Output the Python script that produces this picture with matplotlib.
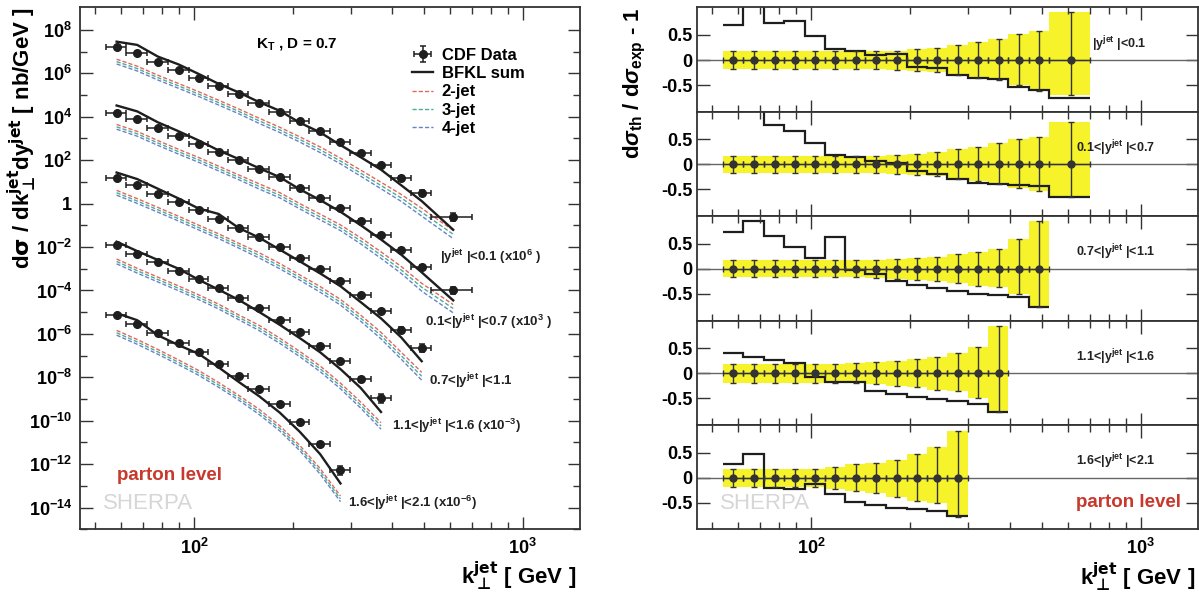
import numpy as np
import matplotlib.pyplot as plt
from matplotlib.ticker import FixedLocator, NullFormatter
from matplotlib.lines import Line2D

plt.rcParams['font.family'] = ['Liberation Sans', 'DejaVu Sans']
plt.rcParams['font.weight'] = 'bold'
plt.rcParams['mathtext.fontset'] = 'custom'
plt.rcParams['mathtext.rm'] = 'Liberation Sans:bold'
plt.rcParams['mathtext.it'] = 'Liberation Sans:bold:italic'
plt.rcParams['mathtext.bf'] = 'Liberation Sans:bold'

# kT jet bins (GeV)
bin_edges = [54, 62, 72, 83, 96, 110, 127, 146, 169, 195, 224, 259, 298, 344, 396, 457, 527, 700]

# CDF data as plotted (scale factors already applied), nb/GeV
data_y01 = [1.7e7, 8.5e6, 3.4e6, 1.45e6, 6.4e5, 2.7e5, 1.12e5, 4.3e4, 1.68e4, 6.2e3, 2.24e3, 7.1e2, 2.1e2, 58, 14.8, 3.2, 0.25]
data_y07 = [1.5e4, 7.7e3, 3.1e3, 1.29e3, 570, 238, 98, 40, 16, 5.2, 1.8, 0.6, 0.16, 0.037, 7.6e-3, 1.2e-3, 1.0e-4]
data_y11 = [15.5, 6.9, 2.9, 1.2, 0.49, 0.204, 0.078, 0.03, 0.01, 3.2e-3, 1.0e-3, 2.8e-4, 5.9e-5, 1.1e-5, 1.55e-6, 2.3e-7]
data_y16 = [1.25e-2, 4.9e-3, 2.0e-3, 8.3e-4, 3.4e-4, 1.32e-4, 4.5e-5, 1.6e-5, 4.5e-6, 1.2e-6, 2.9e-7, 5.4e-8, 8.5e-9, 1.1e-9]
data_y21 = [7.1e-6, 2.9e-6, 1.07e-6, 3.9e-7, 1.4e-7, 4.3e-8, 1.2e-8, 3.0e-9, 5.9e-10, 8.3e-11, 8.5e-12, 5.4e-13]

# dsigma_th / dsigma_exp - 1 (BFKL sum)
ratio_y01 = [0.69, 1.40, 0.73, 0.78, 0.47, 0.22, 0.18, 0.10, 0.12, -0.14, -0.15, -0.30, -0.35, -0.37, -0.53, -0.59, -0.75]
ratio_y07 = [1.20, 1.30, 0.78, 0.67, 0.43, 0.19, 0.15, 0.07, 0.03, -0.13, -0.19, -0.30, -0.37, -0.40, -0.42, -0.43, -0.65]
ratio_y11 = [0.74, 0.96, 0.66, 0.44, 0.22, 0.64, -0.03, -0.10, -0.24, -0.32, -0.39, -0.44, -0.51, -0.53, -0.56, -0.76]
ratio_y16 = [0.41, 0.33, 0.26, 0.21, -0.08, -0.17, -0.18, -0.36, -0.42, -0.47, -0.51, -0.56, -0.62, -0.77]
ratio_y21 = [0.27, 0.47, -0.20, -0.22, -0.13, -0.33, -0.49, -0.55, -0.60, -0.63, -0.66, -0.76]

# experimental uncertainty (relative, up / down)
unc_up_y01 = [0.17, 0.17, 0.17, 0.17, 0.17, 0.17, 0.17, 0.17, 0.18, 0.21, 0.24, 0.30, 0.36, 0.42, 0.52, 0.58, 0.95]
unc_dn_y01 = [0.18, 0.18, 0.18, 0.18, 0.18, 0.18, 0.18, 0.18, 0.19, 0.22, 0.24, 0.29, 0.35, 0.40, 0.50, 0.62, 0.70]
unc_up_y07 = [0.17, 0.17, 0.17, 0.17, 0.17, 0.17, 0.17, 0.17, 0.18, 0.21, 0.24, 0.30, 0.35, 0.42, 0.50, 0.55, 0.84]
unc_dn_y07 = [0.18, 0.18, 0.18, 0.18, 0.18, 0.18, 0.18, 0.18, 0.19, 0.22, 0.24, 0.29, 0.34, 0.40, 0.48, 0.52, 0.65]
unc_up_y11 = [0.17, 0.17, 0.17, 0.17, 0.17, 0.17, 0.17, 0.18, 0.20, 0.22, 0.24, 0.29, 0.34, 0.40, 0.60, 0.96]
unc_dn_y11 = [0.17, 0.17, 0.17, 0.17, 0.17, 0.17, 0.17, 0.18, 0.20, 0.22, 0.24, 0.29, 0.34, 0.37, 0.50, 0.76]
unc_up_y16 = [0.19, 0.19, 0.19, 0.19, 0.19, 0.19, 0.20, 0.22, 0.25, 0.28, 0.33, 0.40, 0.53, 0.95]
unc_dn_y16 = [0.19, 0.19, 0.19, 0.19, 0.19, 0.19, 0.20, 0.22, 0.25, 0.28, 0.33, 0.36, 0.50, 0.77]
unc_up_y21 = [0.18, 0.18, 0.18, 0.18, 0.18, 0.22, 0.27, 0.30, 0.36, 0.47, 0.60, 0.92]
unc_dn_y21 = [0.18, 0.18, 0.18, 0.18, 0.18, 0.22, 0.27, 0.30, 0.38, 0.47, 0.50, 0.78]

# n-jet contributions: log10(2-jet / data) per bin, and 3-/4-jet relative to 2-jet
jet2_y01 = [-0.58, -0.60, -0.62, -0.63, -0.65, -0.67, -0.69, -0.70, -0.71, -0.72, -0.74, -0.76, -0.78, -0.78, -0.75, -0.72, -0.63]
jet2_y07 = [-0.53, -0.56, -0.59, -0.61, -0.63, -0.65, -0.67, -0.69, -0.70, -0.72, -0.74, -0.76, -0.78, -0.79, -0.78, -0.75, -0.65]
jet2_y11 = [-0.58, -0.61, -0.64, -0.66, -0.68, -0.70, -0.72, -0.74, -0.76, -0.79, -0.82, -0.86, -0.91, -0.97, -1.04, -1.13]
jet2_y16 = [-0.65, -0.67, -0.69, -0.71, -0.73, -0.75, -0.78, -0.81, -0.85, -0.89, -0.94, -1.00, -1.07, -1.13]
jet2_y21 = [-0.69, -0.72, -0.75, -0.79, -0.83, -0.87, -0.91, -0.95, -1.00, -1.06, -1.13, -1.20]
jet3_rel = [-0.11, -0.11, -0.11, -0.11, -0.11, -0.11, -0.11, -0.12, -0.12, -0.12, -0.13, -0.13, -0.14, -0.15, -0.16, -0.18, -0.18]
jet4_rel = [-0.22, -0.22, -0.22, -0.22, -0.22, -0.22, -0.22, -0.24, -0.24, -0.24, -0.26, -0.26, -0.28, -0.30, -0.32, -0.36, -0.38]

left_labels = [r'|y$^{\mathrm{jet}}$ |<0.1 (x10$^{6}$ )',
               r'0.1<|y$^{\mathrm{jet}}$ |<0.7 (x10$^{3}$ )',
               r'0.7<|y$^{\mathrm{jet}}$ |<1.1',
               r'1.1<|y$^{\mathrm{jet}}$ |<1.6 (x10$^{-3}$)',
               r'1.6<|y$^{\mathrm{jet}}$ |<2.1 (x10$^{-6}$)']
right_labels = [r'|y$^{\mathrm{jet}}$ |<0.1',
                r'0.1<|y$^{\mathrm{jet}}$ |<0.7',
                r'0.7<|y$^{\mathrm{jet}}$ |<1.1',
                r'1.1<|y$^{\mathrm{jet}}$ |<1.6',
                r'1.6<|y$^{\mathrm{jet}}$ |<2.1']

datas = [data_y01, data_y07, data_y11, data_y16, data_y21]
ratios = [ratio_y01, ratio_y07, ratio_y11, ratio_y16, ratio_y21]
uncs_up = [unc_up_y01, unc_up_y07, unc_up_y11, unc_up_y16, unc_up_y21]
uncs_dn = [unc_dn_y01, unc_dn_y07, unc_dn_y11, unc_dn_y16, unc_dn_y21]
jet2s = [jet2_y01, jet2_y07, jet2_y11, jet2_y16, jet2_y21]

edges = np.array(bin_edges, dtype=float)
centers = 0.5 * (edges[:-1] + edges[1:])

dark = '#1e1e1e'
red = '#e2675c'
green = '#4aae98'
blue = '#6683cc'
yellow = '#f6f32a'
xlim = (45, 1490)
xminor = [50, 60, 70, 80, 90, 200, 300, 400, 500, 600, 700, 800, 900]
# \bot is U+22A5 (\perp maps to U+27C2, which the fonts lack); math parts use DejaVu
klabel = r'k$_{\bot}^{\mathbf{jet}}$ [ GeV ]'
ylabel_left = r'd$\mathbf{\sigma}$ / dk$_{\bot}^{\mathbf{jet}}$dy$^{\mathbf{jet}}$ [ nb/GeV ]'


def style_axes(ax):
    ax.tick_params(which='both', direction='in', top=True, right=True, labelsize=13, width=1.0, color='#333')
    ax.tick_params(which='major', length=9)
    ax.tick_params(which='minor', length=5)
    for s in ax.spines.values():
        s.set_linewidth(1.3)
        s.set_color('#333')


fig = plt.figure(figsize=(11.99, 5.99), dpi=100)
W, H = 1199.0, 599.0

# ---------------- left panel ----------------
axL = fig.add_axes([80.4 / W, 69.7 / H, 499.4 / W, 522 / H])
axL.set_xscale('log')
axL.set_yscale('log')
axL.set_xlim(*xlim)
axL.set_ylim(1e-15, 1.1e9)

cdf_handle = None
for g in range(5):
    n = len(datas[g])
    d = np.array(datas[g])
    c = centers[:n]
    lo = edges[:n]
    hi = edges[1:n + 1]
    th = d * (1 + np.array(ratios[g]))
    two = d * 10 ** np.array(jet2s[g])
    three = two * 10 ** np.array(jet3_rel[:n])
    four = two * 10 ** np.array(jet4_rel[:n])
    axL.plot(c, four, color=blue, lw=1.0, ls=(0, (3, 1.5)))
    axL.plot(c, three, color=green, lw=1.0, ls=(0, (3, 1.5)))
    axL.plot(c, two, color=red, lw=1.0, ls=(0, (3, 1.5)))
    axL.plot(c, th, color=dark, lw=1.7)
    yerr = [d * np.array(uncs_dn[g]) * 0.5, d * np.array(uncs_up[g]) * 0.5]
    h = axL.errorbar(c, d, xerr=[c - lo, hi - c], yerr=yerr, fmt='o', color=dark,
                     ms=5.5, elinewidth=1.1, capsize=2.2, capthick=1.1)
    if cdf_handle is None:
        cdf_handle = h

yt = np.arange(-14, 9, 2)
axL.set_yticks(10.0 ** yt, labels=['1' if k == 0 else r'$10^{%d}$' % k for k in yt])
axL.yaxis.set_minor_locator(FixedLocator(10.0 ** np.arange(-15, 9, 2)))
axL.yaxis.set_minor_formatter(NullFormatter())
axL.set_xticks([100, 1000], labels=[r'$10^{2}$', r'$10^{3}$'])
axL.xaxis.set_minor_locator(FixedLocator(xminor))
axL.xaxis.set_minor_formatter(NullFormatter())
style_axes(axL)
axL.tick_params(axis='x', pad=6)
axL.tick_params(axis='y', pad=6)

handles = [cdf_handle,
           Line2D([], [], color=dark, lw=1.7),
           Line2D([], [], color=red, lw=1.0, ls=(0, (3, 1.5))),
           Line2D([], [], color=green, lw=1.0, ls=(0, (3, 1.5))),
           Line2D([], [], color=blue, lw=1.0, ls=(0, (3, 1.5)))]
axL.legend(handles, ['CDF Data', 'BFKL sum', '2-jet', '3-jet', '4-jet'], loc='upper left',
           bbox_to_anchor=(0.64, 0.945), frameon=False, fontsize=12, handlelength=1.3,
           handletextpad=0.5, labelspacing=0.2, borderpad=0.2)

axL.text(0.352, 0.93, r'K$_{\mathrm{T}}$ , D = 0.7', transform=axL.transAxes, fontsize=11, va='center')
label_pos = [(0.72, 0.522), (0.69, 0.397), (0.698, 0.284), (0.624, 0.198), (0.536, 0.05)]
for (x, y), lab in zip(label_pos, left_labels):
    axL.text(x, y, lab, transform=axL.transAxes, fontsize=9.5, va='center', color='#222')
axL.text(0.073, 0.104, 'parton level', transform=axL.transAxes, fontsize=13.5, color='#c8382c', va='center')
axL.text(0.045, 0.05, 'SHERPA', transform=axL.transAxes, fontsize=16, color='#d6d6d6',
         fontweight='normal', va='center')

fig.text(22 / W, 1 - 7 / H, ylabel_left, rotation=90, ha='center', va='top', fontsize=16,
         math_fontfamily='dejavusans')
fig.text(576 / W, 1 - 576 / H, klabel, ha='right', va='center', fontsize=16, math_fontfamily='dejavusans')

# ---------------- right panels ----------------
x0 = 696.8 / W
wR = 501.2 / W
hP = 104.4 / H
for i in range(5):
    ax = fig.add_axes([x0, (69.7 + (4 - i) * 104.4) / H, wR, hP])
    n = len(ratios[i])
    e = edges[:n + 1]
    c = centers[:n]
    up = np.array(uncs_up[i])
    dn = np.array(uncs_dn[i])
    ax.stairs(up, e, baseline=-dn, fill=True, color=yellow, lw=0)
    ax.axhline(0, color='#666', lw=1.0)
    ax.stairs(ratios[i], e, baseline=None, color=dark, lw=1.6)
    ax.errorbar(c, np.zeros(n), xerr=[c - e[:-1], e[1:] - c], yerr=[dn, up], fmt='o',
                color='#333', ms=5, elinewidth=1.0, capsize=2.2, capthick=1.0)
    ax.set_xscale('log')
    ax.set_xlim(*xlim)
    ax.set_ylim(-1.03, 1.05)
    ax.set_yticks([-0.5, 0, 0.5], labels=['-0.5', '0', '0.5'])
    ax.set_xticks([100, 1000], labels=[r'$10^{2}$', r'$10^{3}$'])
    ax.xaxis.set_minor_locator(FixedLocator(xminor))
    ax.xaxis.set_minor_formatter(NullFormatter())
    style_axes(ax)
    ax.tick_params(axis='y', pad=3)
    ax.tick_params(axis='x', pad=6)
    if i < 4:
        ax.tick_params(axis='x', labelbottom=False)
    lx = 0.789 if i == 0 else 0.757
    ax.text(lx, 0.65, right_labels[i], transform=ax.transAxes, fontsize=9, va='center', color='#222')
    if i == 4:
        ax.text(0.757, 0.26, 'parton level', transform=ax.transAxes, fontsize=13.5,
                color='#c8382c', va='center')
        ax.text(0.046, 0.25, 'SHERPA', transform=ax.transAxes, fontsize=16, color='#d6d6d6',
                fontweight='normal', va='center')

fig.text(635 / W, 1 - 7 / H, r'd$\sigma_{\mathrm{th}}$ / d$\sigma_{\mathrm{exp}}$ - 1',
         rotation=90, ha='center', va='top', fontsize=16)
fig.text(1195 / W, 1 - 577 / H, klabel, ha='right', va='center', fontsize=16, math_fontfamily='dejavusans')

fig.savefig('out.png', dpi=100)
